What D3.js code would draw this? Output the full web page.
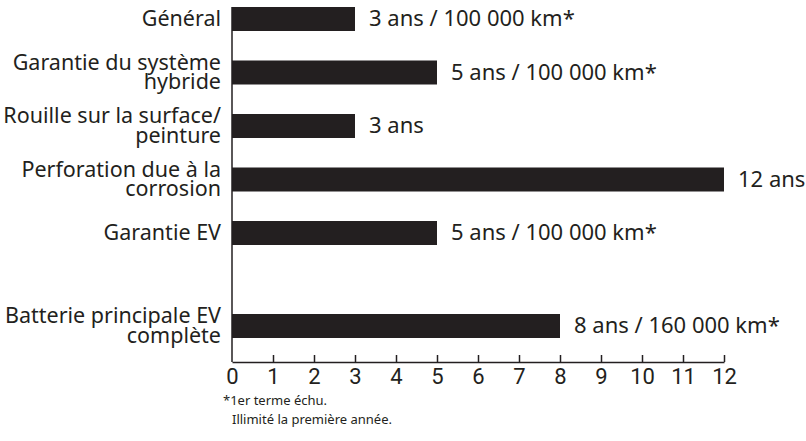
<!DOCTYPE html>
<html>
<head>
<meta charset="utf-8">
<script src="https://cdn.jsdelivr.net/npm/d3@7"></script>
<style>
  body { margin: 0; background: #fff; }
  text { fill: #231f20; }
</style>
</head>
<body>
<div class="canvas"></div>
<script>
// data
const categories = [
    ['Général'],
    ['Garantie du système', 'hybride'],
    ['Rouille sur la surface/', 'peinture'],
    ['Perforation due à la', 'corrosion'],
    ['Garantie EV'],
    ['Batterie principale EV', 'complète']
];
const years = [3, 5, 3, 12, 5, 8];
const valueLabels = [
    '3 ans / 100 000 km*',
    '5 ans / 100 000 km*',
    '3 ans',
    '12 ans',
    '5 ans / 100 000 km*',
    '8 ans / 160 000 km*'
];
const xTicks = [0, 1, 2, 3, 4, 5, 6, 7, 8, 9, 10, 11, 12];
const footnotes = ['*1er terme échu.', 'Illimité la première année.'];

const ink = '#231f20';

const svg = d3.select('.canvas')
    .append('svg')
        .attr('width', 806)
        .attr('height', 441);

//Create margins and dimensions
const margin = {top: 7, left: 232};
const graphWidth = 492;
const barH = 24;
const step = 53.5;
const extraGap = 39.5;   // space before the last bar

const x = d3.scaleLinear()
    .domain([0, 12])
    .range([0, graphWidth]);

const idx = categories.map((d, i) => i);
const yBand = d3.scaleBand()
    .domain(idx)
    .range([0, step * (idx.length - 1) + barH])
    .paddingInner((step - barH) / step)
    .paddingOuter(0);
const y = i => yBand(i) + (i === idx.length - 1 ? extraGap : 0);

const graph = svg.append('g')
    .attr('transform', `translate(${margin.left},${margin.top})`);

const axisY = 362 - margin.top;

// bars
graph.selectAll('rect')
    .data(years)
    .enter()
    .append('rect')
        .attr('x', 0)
        .attr('y', (d, i) => y(i))
        .attr('width', d => x(d))
        .attr('height', barH)
        .attr('fill', ink);

// value labels
graph.selectAll('.val')
    .data(valueLabels)
    .enter()
    .append('text')
        .attr('class', 'val')
        .attr('x', (d, i) => x(years[i]) + 14)
        .attr('y', (d, i) => y(i) + barH / 2 + 7)
        .attr('font-family', 'Noto Sans')
        .attr('font-size', 22)
        .text(d => d);

// category labels
const cat = graph.selectAll('.cat')
    .data(categories)
    .enter()
    .append('text')
        .attr('class', 'cat')
        .attr('text-anchor', 'end')
        .attr('font-family', 'Noto Sans')
        .attr('font-size', 21.5)
        .attr('x', -11)
        .attr('y', (d, i) => y(i) + barH / 2 + (d.length > 1 ? -3 : 7));

cat.selectAll('tspan')
    .data(d => d)
    .enter()
    .append('tspan')
        .attr('x', -11)
        .attr('dy', (d, i) => i === 0 ? 0 : 19.5)
        .text(d => d);

// vertical axis line
graph.append('line')
    .attr('x1', 0).attr('x2', 0)
    .attr('y1', 0).attr('y2', axisY)
    .attr('stroke', ink)
    .attr('stroke-width', 1.5);

// x axis, ticks pointing up
const xAxis = d3.axisBottom(x)
    .tickValues(xTicks)
    .tickSizeInner(-7)
    .tickSizeOuter(0)
    .tickPadding(6);

const xg = graph.append('g')
    .attr('transform', `translate(0,${axisY})`)
    .call(xAxis);

xg.select('.domain').attr('stroke', ink).attr('stroke-width', 1.5);
xg.selectAll('.tick line').attr('stroke', ink).attr('stroke-width', 1.5);
xg.selectAll('.tick').filter(d => d === 0).select('line').remove();
xg.selectAll('.tick text')
    .attr('fill', ink)
    .attr('font-family', 'Roboto')
    .attr('font-size', 22);

// footnotes
svg.selectAll('.foot')
    .data(footnotes)
    .enter()
    .append('text')
        .attr('class', 'foot')
        .attr('x', (d, i) => i === 0 ? 223 : 232)
        .attr('y', (d, i) => 405 + i * 19)
        .attr('font-family', 'Noto Sans')
        .attr('font-size', 13)
        .text(d => d);
</script>
</body>
</html>
